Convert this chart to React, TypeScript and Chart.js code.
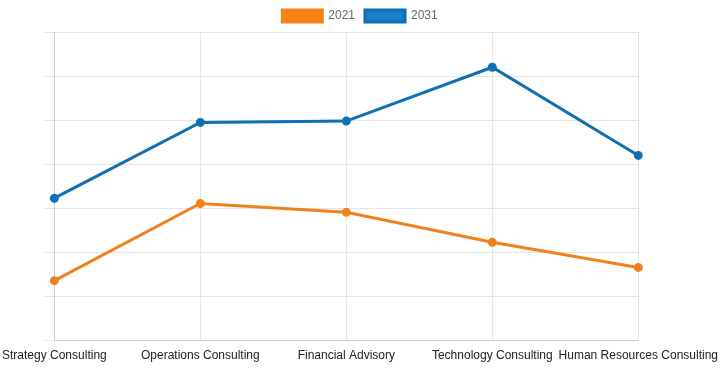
import React, { useEffect, useRef } from "react";
import { Chart, registerables } from "chart.js";

Chart.register(...registerables);

const categories = [
  "Strategy Consulting",
  "Operations Consulting",
  "Financial Advisory",
  "Technology Consulting",
  "Human Resources Consulting",
];
const values2021 = [13.6, 31.1, 29.1, 22.3, 16.6];
const values2031 = [32.3, 49.5, 49.8, 62.0, 42.0];

export default function App() {
  const ref = useRef<HTMLCanvasElement | null>(null);
  useEffect(() => {
    document.body.style.margin = "0";
    document.body.style.overflow = "hidden";
    if (!ref.current) return;
    const chart = new Chart(ref.current, {
      type: "line",
      data: {
        labels: categories,
        datasets: [
          {
            label: "2021",
            data: values2021,
            borderColor: "#F0821E",
            backgroundColor: "#FF7F0E",
            borderWidth: 3,
            pointRadius: 3,
            pointBackgroundColor: "#F0821E",
            pointBorderColor: "#F0821E",
            tension: 0,
            fill: false,
          },
          {
            label: "2031",
            data: values2031,
            borderColor: "#0F6FB0",
            backgroundColor: "#1A80CC",
            borderWidth: 3,
            pointRadius: 3,
            pointBackgroundColor: "#0F6FB0",
            pointBorderColor: "#0F6FB0",
            tension: 0,
            fill: false,
          },
        ],
      },
      options: {
        responsive: true,
        maintainAspectRatio: false,
        animation: false,
        plugins: {
          legend: {
            display: true,
            position: "top",
            labels: {
              boxWidth: 40,
              boxHeight: 12,
              color: "#666",
              font: { family: "Liberation Sans, Arial, sans-serif", size: 12 },
            },
          },
          tooltip: { enabled: false },
        },
        scales: {
          x: {
            grid: { color: "#e5e5e5", drawTicks: false },
            border: { color: "#ccc" },
            ticks: {
              color: "#222",
              maxRotation: 0,
              autoSkip: false,
              padding: 8,
              font: { family: "Liberation Sans, Arial, sans-serif", size: 12 },
            },
          },
          y: {
            min: 0,
            max: 70,
            grid: { color: "#e5e5e5", tickLength: 10 },
            border: { color: "#ccc" },
            ticks: { display: false, stepSize: 10 },
          },
        },
      },
    });
    return () => chart.destroy();
  }, []);
  return (
    <div style={{ width: 732, height: 371, position: "relative", left: -6 }}>
      <canvas ref={ref} />
    </div>
  );
}
